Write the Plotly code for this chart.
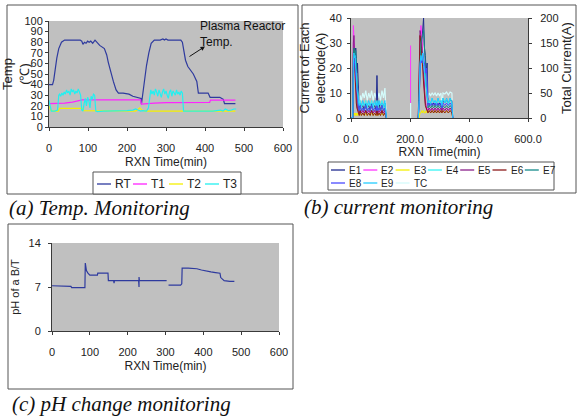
import plotly.graph_objects as go

W, H = 579, 416

# ---------------- (a) Temperature monitoring ----------------
t_rt = [0, 9, 12, 16, 20, 25, 32, 40, 60, 80,
        84, 87, 91, 95, 99, 103, 107, 112, 118, 122,
        130, 142, 148, 152, 158, 165, 172, 178, 190, 205,
        215, 232, 236, 237, 240, 245, 250, 256, 262, 270,
        285, 292, 296, 300, 305, 320, 338, 342, 346, 350,
        356, 362, 370, 379, 383, 395, 408, 413, 438, 447,
        450, 465, 478]
rt = [40, 40, 44, 55, 65, 74, 80, 82, 82, 82,
      81, 78, 80, 79, 81, 80, 81, 79, 82, 80,
      77, 74, 68, 61, 52, 43, 35, 32, 32, 31,
      29, 27, 27, 21.5, 30, 45, 58, 70, 79, 82,
      82, 83, 82, 83, 82, 82, 82, 80, 70, 63,
      57, 54, 50, 43, 32, 32, 32, 28, 28, 26,
      22, 22, 22]

t_t1 = [0, 35, 40, 60, 80, 85, 150, 235, 237, 250, 270, 300, 340, 412, 414, 478]
t1 = [22, 22, 22.5, 23.5, 25, 25.5, 25.5, 25.5, 21.5, 22, 22.5, 23, 23.3, 23.3, 25.4, 25.4]

t_t2 = [0, 4, 10, 24, 27, 60, 86, 89, 100, 120, 200, 222, 228, 233, 238, 246, 300, 400, 478]
t2 = [20, 16, 15, 15, 17.5, 17.5, 17.5, 15.5, 15.5, 15, 15, 15, 16.5, 18, 16, 15, 15, 15, 15]

t_t3 = [0, 3, 6, 15, 22, 25, 27,
        30, 33, 36, 39, 42, 45, 48, 51, 54, 57, 60, 63, 66, 69, 72, 75, 78, 81, 84, 87,
        90, 93, 96, 99, 102, 105, 108, 111, 114, 117, 120,
        124, 140, 160, 180, 200, 215, 222, 228, 235, 240, 250, 255,
        258, 261, 264, 267, 270, 273, 276, 279, 282, 285, 288, 291, 294, 297, 300,
        303, 306, 309, 312, 315, 318, 321, 324, 327, 330, 333, 336, 339, 342, 345,
        360, 380, 400, 420, 440, 446, 452, 460, 468, 474, 480]
t3 = [25, 18, 15, 15, 16, 30, 31,
      29, 32, 30, 33, 31, 35, 32, 34, 30, 36, 33, 35, 31, 34, 32, 36, 33, 30, 16, 15,
      22, 27, 20, 28, 25, 18, 29, 26, 31, 30, 15,
      14.5, 15, 15, 15, 15.5, 16, 17, 16, 15, 15.5, 15, 18,
      30, 35, 31, 34, 30, 36, 33, 29, 35, 32, 28, 33, 36, 31, 34,
      30, 27, 33, 35, 29, 34, 32, 30, 35, 31, 33, 30, 34, 32, 15,
      15, 15, 15.5, 15, 16, 15, 17, 15.5, 16, 17, 17]

temp_names = ["RT", "T1", "T2", "T3"]

# ---------------- (b) Current monitoring ----------------
t_b = [0, 6, 8, 10, 12, 14, 16, 18, 20, 22, 24, 26, 28, 31, 35, 40, 45, 50, 55, 60,
       65, 70, 75, 80, 85, 88, 91, 95, 100, 105, 110, 115, 120,
       160, 202, 202, 215,
       228, 231, 234, 237, 240, 243, 246, 249, 252, 255, 258, 261, 265, 270, 275,
       280, 285, 290, 295, 300, 305, 308, 312, 318, 324, 330, 336, 342, 345]

e1 = ([0, 0, 20, 24, 26, 22, 28, 24, 18, 22, 12, 7, 3, 6, 4, 5, 3, 6, 4, 5, 3, 6, 4, 5, 3, 17, 4, 6, 3, 5, 4, 6, 0]
      + [None, None, None, None]
      + [0, 5, 20, 26, 30, 34, 40, 28, 25, 18, 22, 6, 5, 6, 5, 6, 5, 6, 5, 6, 5, 3, 7, 6, 7, 6, 7, 7, 0])
e2 = ([0, 0, 37, 32, 28, 22, 15, 10, 6, 4, 3, 3, 2, 3, 2, 3, 2, 3, 2, 3, 2, 3, 2, 3, 2, 3, 2, 3, 2, 3, 2, 3, 0]
      + [None, 6, 29, None]
      + [0, 10, 30, 37, 33, 28, 20, 10, 6, 5, 4, 3, 4, 3, 4, 3, 4, 3, 4, 3, 4, 3, 4, 3, 4, 3, 4, 3, 0])
e3 = ([0, 0, 2, 1, 2, 1, 2, 1, 2, 1, 2, 1, 1, 2, 1, 2, 1, 2, 1, 2, 1, 2, 1, 2, 1, 2, 1, 2, 1, 2, 1, 2, 0]
      + [None, None, None, None]
      + [0, 0, 2, 2, 3, 2, 3, 2, 2, 3, 2, 2, 3, 2, 3, 2, 3, 2, 3, 2, 3, 2, 3, 2, 3, 2, 3, 2, 0])
e4 = ([0, 0, 18, 22, 25, 20, 24, 18, 14, 10, 8, 7, 5, 7, 4, 6, 5, 7, 4, 6, 5, 7, 4, 6, 5, 7, 4, 6, 5, 7, 4, 6, 0]
      + [None, None, None, None]
      + [0, 8, 25, 28, 24, 27, 22, 20, 16, 12, 10, 6, 7, 5, 8, 6, 7, 5, 8, 6, 7, 4, 8, 6, 7, 5, 8, 6, 0])
e5 = ([0, 0, 30, 33, 26, 20, 15, 10, 6, 4, 3, 2, 2, 3, 2, 3, 2, 3, 2, 3, 2, 3, 2, 3, 2, 3, 2, 3, 2, 3, 2, 3, 0]
      + [None, None, None, None]
      + [0, 15, 35, 33, 30, 25, 18, 10, 6, 4, 3, 3, 4, 3, 4, 3, 4, 3, 4, 3, 4, 3, 4, 3, 4, 3, 4, 3, 0])
e6 = ([0, 0, 26, 28, 22, 15, 10, 6, 4, 3, 2, 2, 1, 3, 1, 2, 1, 3, 1, 2, 1, 3, 1, 2, 1, 3, 1, 2, 1, 3, 1, 2, 0]
      + [None, None, None, None]
      + [0, 12, 33, 30, 26, 20, 14, 8, 5, 4, 3, 2, 3, 2, 3, 2, 3, 2, 3, 2, 3, 2, 3, 2, 3, 2, 3, 2, 0])
e7 = ([0, 0, 25, 28, 26, 24, 27, 20, 15, 8, 5, 4, 3, 5, 3, 4, 3, 5, 3, 4, 3, 5, 3, 4, 3, 5, 3, 4, 3, 5, 3, 4, 0]
      + [None, None, None, None]
      + [0, 10, 28, 30, 32, 33, 35, 30, 22, 14, 10, 4, 5, 4, 5, 4, 5, 4, 5, 4, 5, 4, 5, 4, 5, 4, 5, 4, 0])
e8 = ([0, 0, 20, 24, 22, 20, 18, 16, 12, 8, 6, 5, 3, 5, 3, 4, 3, 5, 3, 4, 3, 5, 3, 4, 3, 5, 3, 4, 3, 5, 3, 4, 0]
      + [None, None, None, None]
      + [0, 6, 20, 24, 22, 26, 24, 22, 18, 20, 15, 5, 6, 5, 6, 5, 6, 5, 6, 5, 6, 4, 6, 5, 6, 5, 6, 5, 0])
e9 = ([0, 0, 22, 26, 24, 25, 20, 18, 12, 9, 7, 6, 5, 6, 5, 7, 5, 6, 5, 7, 5, 6, 5, 7, 5, 6, 5, 7, 5, 6, 5, 7, 0]
      + [None, None, None, None]
      + [0, 7, 22, 25, 23, 26, 21, 18, 14, 10, 8, 6, 7, 6, 8, 6, 7, 6, 8, 6, 7, 5, 8, 6, 8, 6, 8, 6, 0])
tc = ([0, 0, 120, 135, 125, 115, 100, 80, 60, 45, 40, 35, 30, 45, 35, 50, 40, 55, 35, 50, 40, 55, 35, 50, 40, 55, 40, 50, 35, 55, 40, 60, 0]
      + [None, 0, 30, None]
      + [0, 40, 140, 150, 130, 145, 120, 110, 90, 70, 55, 40, 50, 45, 50, 46, 50, 44, 50, 45, 50, 20, 50, 48, 52, 46, 52, 50, 0])

electrode_names = ["E1", "E2", "E3", "E4", "E5", "E6", "E7", "E8", "E9"]
electrode_values = [e1, e2, e3, e4, e5, e6, e7, e8, e9]

# ---------------- (c) pH monitoring ----------------
t_ph = [0, 30, 50, 52, 70, 87, 88, 89, 91, 95,
        100, 120, 121, 148, 149, 163, 164, 165, 229, 230,
        230, 231, 303, 305, 308, 340, 343, 344, 360, 383,
        395, 409, 420, 432, 444, 446, 449, 455, 470, 482]
ph = [7.2, 7.2, 7.1, 6.9, 6.95, 6.9, 10.8, 10.2, 9.6, 9.2,
      8.9, 8.9, 9.2, 9.2, 8.0, 8.0, 7.6, 8.0, 8.0, 7.0,
      8.6, 8.0, 8.0, None, 7.3, 7.3, 7.5, 10.0, 10.0, 9.9,
      9.7, 9.5, 9.4, 9.3, 9.2, 8.5, 8.3, 8.0, 7.9, 7.9]

# ---------------- styling ----------------
FONT = "Liberation Sans Narrow, Arial Narrow, Liberation Sans, Arial, sans-serif"
SANS = "Liberation Sans, Arial, sans-serif"
SERIF = "Liberation Serif, Times New Roman, serif"
AX = "#3a3a3a"
temp_colors = ["#2E3A9E", "#FF22FF", "#F5F000", "#22F0F0"]
el_colors = ["#1F2B8F", "#FF33FF", "#F5F000", "#33F5F5", "#8A1F8A",
             "#8B1A1A", "#148A8A", "#4B4BFF", "#22CCFF"]
tc_color = "#D4FBFB"

fig = go.Figure()

for name, tx, ty, c in zip(temp_names, [t_rt, t_t1, t_t2, t_t3], [rt, t1, t2, t3], temp_colors):
    fig.add_trace(go.Scatter(x=tx, y=ty, mode="lines", name=name, showlegend=False,
                             line=dict(color=c, width=1.2), xaxis="x", yaxis="y"))

fig.add_trace(go.Scatter(x=t_b, y=tc, mode="lines", name="TC", showlegend=False,
                         line=dict(color=tc_color, width=1.2), xaxis="x2", yaxis="y2"))
for name, vals, c in zip(electrode_names, electrode_values, el_colors):
    fig.add_trace(go.Scatter(x=t_b, y=vals, mode="lines", name=name, showlegend=False,
                             line=dict(color=c, width=1), xaxis="x2", yaxis="y3"))

fig.add_trace(go.Scatter(x=t_ph, y=ph, mode="lines", name="pH", showlegend=False,
                         line=dict(color="#2E3A9E", width=1.2), xaxis="x3", yaxis="y4"))

axis_common = dict(showline=True, linecolor=AX, linewidth=1, ticks="outside", ticklen=3,
                   tickcolor=AX, showgrid=False, zeroline=False, automargin=False,
                   tickfont=dict(family=FONT, size=11, color="#222"))


def ax(**kw):
    d = dict(axis_common)
    d.update(kw)
    return d


title_font = dict(family=FONT, size=12, color="#222")

fig.update_layout(
    width=W, height=H, autosize=False,
    margin=dict(l=0, r=0, t=0, b=0),
    paper_bgcolor="white", plot_bgcolor="#C0C0C0",
    showlegend=False,
    xaxis=ax(domain=[49 / W, 283 / W], anchor="y", range=[0, 600], dtick=100, tick0=0,
             ticklabelstandoff=8,
             title=dict(text="RXN Time(min)", font=title_font, standoff=4)),
    yaxis=ax(domain=[1 - 127 / H, 1 - 21 / H], anchor="x", range=[0, 100], dtick=10,
             ticklabelstandoff=0,
             title=dict(text="Temp<br>(℃)", font=dict(family=SANS, size=13, color="#222"), standoff=0)),
    xaxis2=ax(domain=[351 / W, 528 / W], anchor="y2", range=[0, 600], dtick=200, tick0=0,
              tickformat=".1f", ticklabelstandoff=8,
              title=dict(text="RXN Time(min)", font=title_font, standoff=2)),
    yaxis2=ax(domain=[1 - 118 / H, 1 - 18 / H], anchor="x2", side="right", range=[0, 200], dtick=50,
              ticklabelstandoff=6,
              title=dict(text="Total Current(A)", font=dict(family=SANS, size=13, color="#222"), standoff=0)),
    yaxis3=ax(overlaying="y2", anchor="x2", side="left", range=[0, 40], dtick=10,
              ticklabelstandoff=3,
              title=dict(text="Current of Each<br>electrode(A)", font=dict(family=SANS, size=13, color="#222"), standoff=0)),
    xaxis3=ax(domain=[52 / W, 279 / W], anchor="y4", range=[0, 600], dtick=100, tick0=0,
              ticklabelstandoff=8,
              title=dict(text="RXN Time(min)", font=title_font, standoff=4)),
    yaxis4=ax(domain=[1 - 331 / H, 1 - 243 / H], anchor="x3", range=[0, 14], dtick=7,
              ticklabelstandoff=5,
              title=dict(text="pH of a B/T", font=dict(family=SANS, size=11, color="#222"), standoff=6)),
)

# panel frames
frames = [(7, 298, 5, 194), (302, 576, 5, 193), (8, 293, 224, 389)]
for x0, x1, y0, y1 in frames:
    fig.add_shape(type="rect", xref="paper", yref="paper",
                  x0=x0 / W, x1=x1 / W, y0=1 - y1 / H, y1=1 - y0 / H,
                  line=dict(color="#555", width=1), fillcolor="rgba(0,0,0,0)", layer="below")


# legend blocks (compact, Excel-style)
def legend_block(names, colors, box, x_start, rows_y, dx, per_row, fsize):
    bx0, bx1, by0, by1 = box
    fig.add_shape(type="rect", xref="paper", yref="paper",
                  x0=bx0 / W, x1=bx1 / W, y0=1 - by1 / H, y1=1 - by0 / H,
                  line=dict(color="#555", width=1), fillcolor="white")
    for i, (n, c) in enumerate(zip(names, colors)):
        r, col = divmod(i, per_row)
        lx = x_start + col * dx
        ly = rows_y[r]
        fig.add_shape(type="line", xref="paper", yref="paper",
                      x0=lx / W, x1=(lx + 14) / W, y0=1 - ly / H, y1=1 - ly / H,
                      line=dict(color=c, width=1.3))
        fig.add_annotation(text=n, xref="paper", yref="paper", x=(lx + 16) / W, y=1 - ly / H,
                           xanchor="left", yanchor="middle", showarrow=False,
                           font=dict(family=FONT, size=fsize, color="#222"))


legend_block(temp_names, temp_colors, (93, 241, 172, 194), 97, [184], 36, 4, 12)
legend_block(electrode_names + ["TC"], el_colors + [tc_color], (328, 554, 162, 190), 331,
             [170, 183], 32.3, 7, 10)

# captions
for txt, x, y in [("(a) Temp. Monitoring", 7, 208), ("(b) current monitoring", 302, 207),
                  ("(c) pH change monitoring", 10, 404)]:
    fig.add_annotation(text="<i>" + txt + "</i>", xref="paper", yref="paper",
                       x=x / W, y=1 - y / H, xanchor="left", yanchor="middle", showarrow=False,
                       font=dict(family=SERIF, size=21, color="#111"))

# plasma reactor note
fig.add_annotation(text="Plasma Reactor<br>Temp.", xref="paper", yref="paper",
                   x=198 / W, y=1 - 17 / H, xanchor="left", yanchor="top", align="left",
                   showarrow=False, font=dict(family=SANS, size=12, color="#111"))
fig.add_annotation(text="", x=400, y=76, xref="x", yref="y", ax=-17, ay=11,
                   showarrow=True, arrowhead=2, arrowsize=0.9, arrowwidth=1, arrowcolor="#111")

fig.write_html("out.html", config={"displayModeBar": False},
               post_script="document.body.style.margin='0';document.body.style.overflow='hidden';")
